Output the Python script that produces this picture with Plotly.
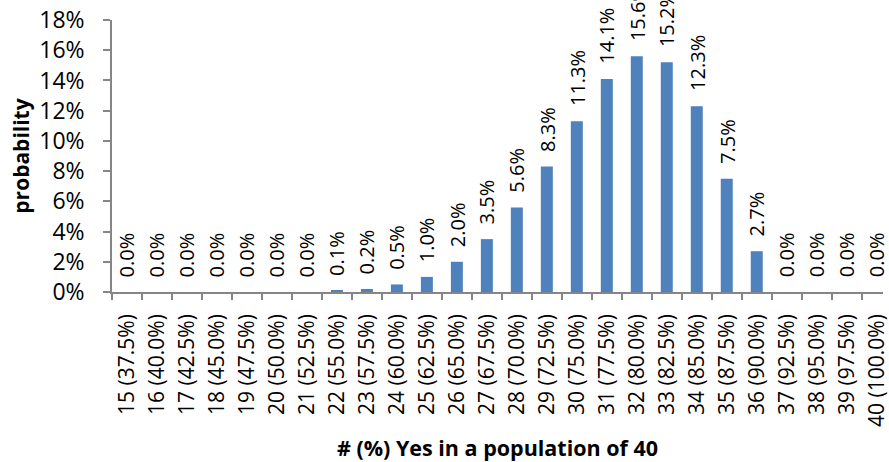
import plotly.graph_objects as go

counts = list(range(15, 41))
categories = [f"{c} ({c / 40 * 100:.1f}%)" for c in counts]
probabilities = [0.000, 0.000, 0.000, 0.000, 0.000, 0.000, 0.000, 0.001, 0.002,
                 0.005, 0.010, 0.020, 0.035, 0.056, 0.083, 0.113, 0.141, 0.156,
                 0.152, 0.123, 0.075, 0.027, 0.000, 0.000, 0.000, 0.000]
y_ticks = [0, 0.02, 0.04, 0.06, 0.08, 0.10, 0.12, 0.14, 0.16, 0.18]

FONT = "Open Sans"
AXIS_COLOR = "#868686"

fig = go.Figure()
fig.add_trace(go.Bar(
    x=categories,
    y=probabilities,
    width=0.4,
    marker=dict(color="#4F81BD", line=dict(width=0)),
    cliponaxis=False,
))

for cat, v in zip(categories, probabilities):
    fig.add_annotation(
        x=cat, y=v, xref="x", yref="y",
        text=f"{v * 100:.1f}%",
        showarrow=False,
        textangle=-90,
        yanchor="bottom",
        xanchor="center",
        yshift=13,
        font=dict(family=FONT, size=20, color="#000000"),
    )

fig.update_layout(
    width=889, height=462,
    margin=dict(l=112, r=0, t=20, b=170, pad=0),
    paper_bgcolor="white",
    plot_bgcolor="white",
    showlegend=False,
    font=dict(family=FONT, size=20, color="#000000"),
    xaxis=dict(
        type="category",
        range=[-0.5, 25.21],
        showline=True, linecolor=AXIS_COLOR, linewidth=1.5,
        ticks="outside", ticklen=6, tickcolor=AXIS_COLOR, tickwidth=1.5,
        tickson="boundaries",
        tickangle=-90,
        tickfont=dict(family=FONT, size=21, color="#000000"),
        ticklabelstandoff=12,
        showgrid=False, zeroline=False,
        title=dict(text="<b># (%) Yes in a population of 40</b>",
                   font=dict(family=FONT, size=21.5, color="#000000"),
                   standoff=16),
    ),
    yaxis=dict(
        range=[0, 0.18],
        tickvals=y_ticks,
        tickformat=".0%",
        showline=True, linecolor=AXIS_COLOR, linewidth=1.5,
        ticks="outside", ticklen=7, tickcolor=AXIS_COLOR, tickwidth=1.5,
        tickfont=dict(family=FONT, size=23, color="#000000"),
        ticklabelstandoff=14,
        showgrid=False, zeroline=False,
        title=dict(text="<b>probability</b>",
                   font=dict(family=FONT, size=21, color="#000000"),
                   standoff=4),
    ),
)

fig.write_html("out.html")
